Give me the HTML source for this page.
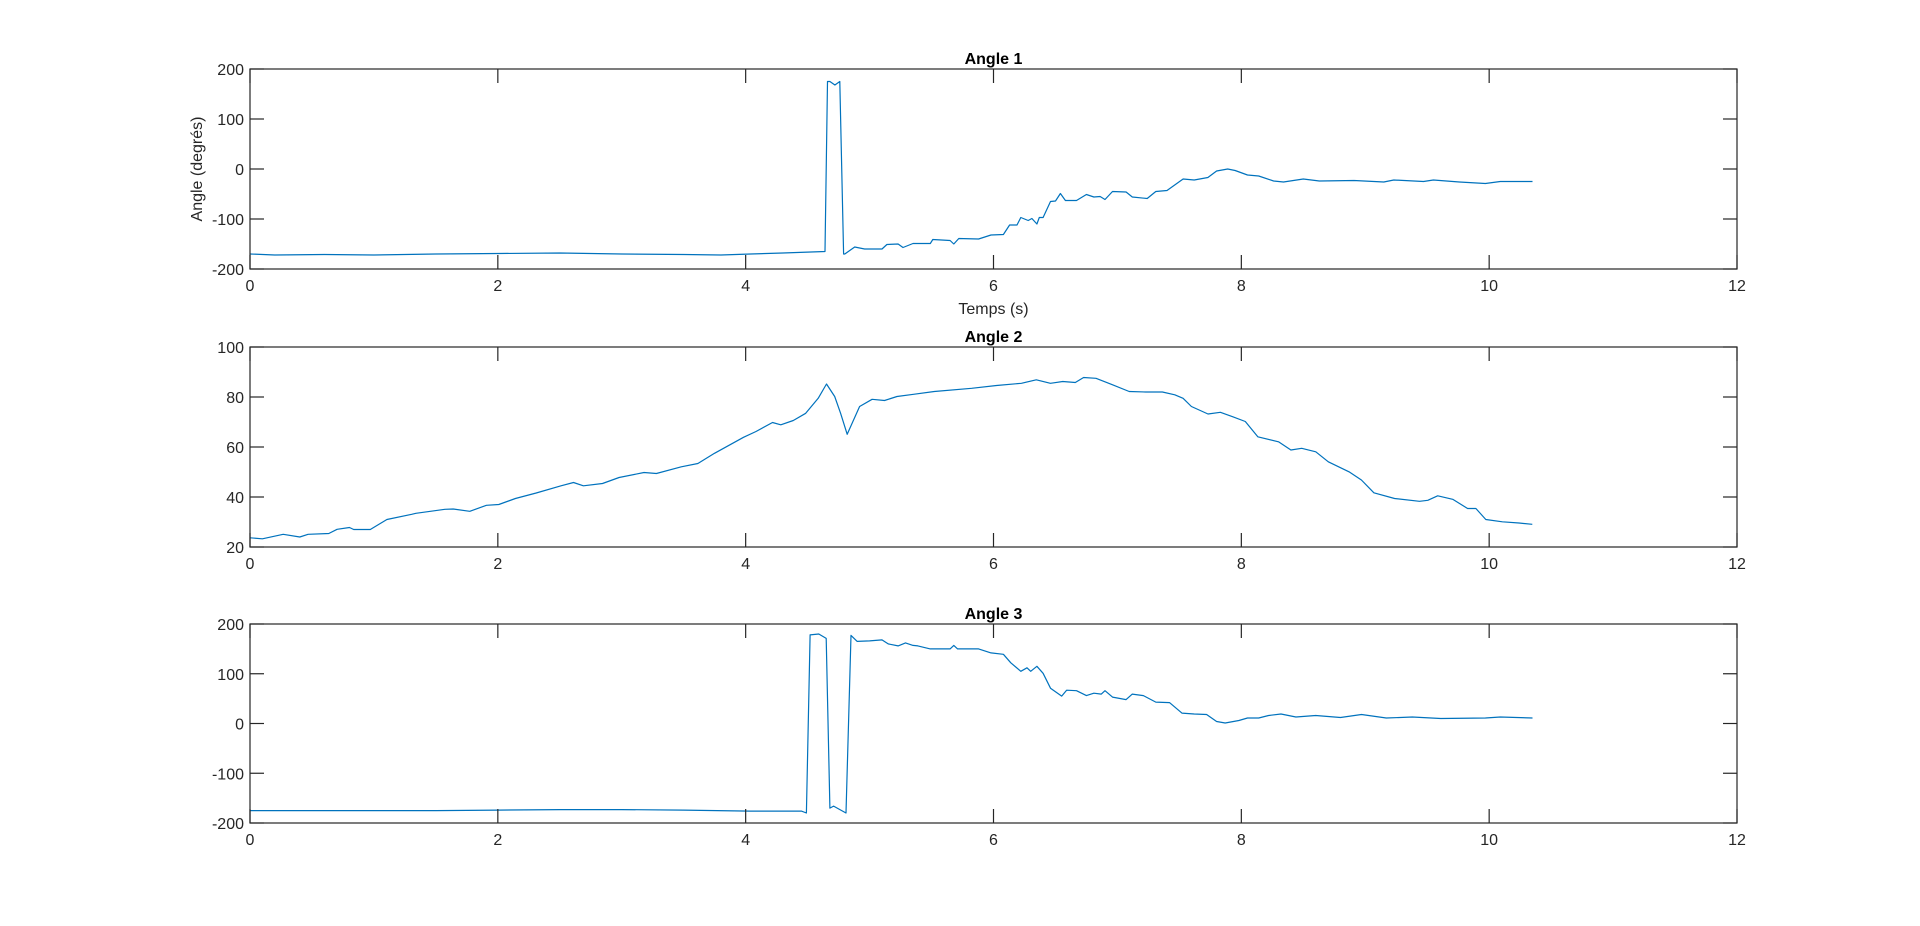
<!DOCTYPE html>
<html><head><meta charset="utf-8"><style>
html,body{margin:0;padding:0;background:#fff;}
svg{display:block;font-family:"Liberation Sans",Arial,sans-serif;}
</style></head><body>
<svg id="fig" width="1920" height="926" viewBox="0 0 1920 926" xmlns="http://www.w3.org/2000/svg"></svg>
<script>
const xTicks=[0,2,4,6,8,10,12];
const yTicks1=[-200,-100,0,100,200];
const yTicks2=[20,40,60,80,100];
const yTicks3=[-200,-100,0,100,200];
const titles=["Angle 1","Angle 2","Angle 3"];
const t1=[0,0.2,0.6,1.0,1.5,2.0,2.5,3.0,3.5,3.8,4.04,4.3,4.64,4.66,4.68,4.72,4.76,4.79,4.80,4.88,4.96,5.10,5.14,5.23,5.27,5.35,5.49,5.51,5.65,5.68,5.72,5.88,5.98,6.08,6.13,6.19,6.22,6.28,6.31,6.35,6.37,6.40,6.46,6.50,6.54,6.58,6.67,6.75,6.81,6.86,6.90,6.96,7.07,7.12,7.24,7.31,7.40,7.53,7.62,7.73,7.80,7.89,7.95,8.05,8.14,8.26,8.34,8.50,8.63,8.91,9.15,9.23,9.47,9.55,9.76,9.97,10.09,10.35];
const v1=[-170,-172,-171,-172,-170,-169,-168,-170,-171,-172,-170,-168,-165,175,175,168,175,-170,-170,-156,-160,-160,-151,-150,-157,-149,-149,-141,-143,-150,-139,-140,-132,-131,-112,-112,-97,-103,-99,-110,-97,-97,-65,-64,-49,-63,-63,-51,-56,-55,-61,-45,-46,-56,-59,-45,-43,-20,-22,-17,-4,0,-3,-12,-14,-24,-26,-20,-24,-23,-26,-22,-25,-22,-26,-29,-25,-25];
const t2=[0,15,40,60,70,95,105,120,125,145,165,195,200,235,245,265,285,300,320,345,375,390,402,425,445,475,490,520,540,560,595,610,630,640,655,670,685,695,705,712,720,735,750,765,780,800,825,870,900,930,948,965,980,995,1005,1020,1040,1060,1080,1100,1115,1125,1135,1155,1170,1185,1200,1215,1240,1255,1268,1285,1300,1325,1340,1355,1380,1410,1420,1432,1450,1468,1478,1490,1510,1530,1546].map(z=>z/149.4);
const v2=[23.7,23.3,25.1,24.0,25.1,25.4,27.1,27.8,27.0,27.0,31.0,33.1,33.5,35.1,35.2,34.3,36.7,37.0,39.4,41.6,44.5,45.8,44.5,45.4,47.8,49.8,49.4,52.1,53.4,57.5,63.9,66.2,69.8,68.9,70.6,73.5,79.5,85.2,80.2,73.5,65.1,76.2,79.1,78.6,80.2,81.1,82.2,83.5,84.6,85.5,86.9,85.5,86.2,85.8,87.8,87.5,84.9,82.2,82.0,82.0,80.9,79.5,76.2,73.2,73.9,72.1,70.2,64.1,62.1,58.8,59.5,58.1,54.1,50.1,46.8,41.7,39.4,38.3,38.7,40.5,39.1,35.4,35.4,31.0,30.1,29.6,29.1];
const t3=[0,0.5,1.0,1.5,2.0,2.5,3.0,3.5,4.04,4.3,4.45,4.49,4.52,4.59,4.65,4.68,4.71,4.81,4.85,4.90,5.00,5.10,5.15,5.23,5.29,5.35,5.39,5.49,5.65,5.68,5.71,5.88,5.98,6.08,6.14,6.22,6.27,6.30,6.35,6.40,6.46,6.55,6.59,6.67,6.75,6.81,6.87,6.90,6.96,7.07,7.12,7.21,7.31,7.42,7.52,7.62,7.72,7.80,7.87,7.98,8.05,8.14,8.22,8.32,8.44,8.60,8.80,8.97,9.17,9.38,9.61,9.97,10.09,10.35];
const v3=[-175,-175,-175,-175,-174,-173,-173,-174,-176,-176,-176,-180,178,180,171,-170,-166,-180,177,165,166,168,160,156,162,157,156,150,150,157,150,150,142,139,122,105,112,105,115,101,71,55,67,66,56,61,59,66,53,48,59,56,43,42,21,19,18,4,1,6,11,11,16,19,13,16,12,18,11,13,10,11,13,11];
const series=[[t1,v1],[t2,v2],[t3,v3]];
const yticksAll=[yTicks1,yTicks2,yTicks3];
const NS="http://www.w3.org/2000/svg";
const svg=document.getElementById('fig');
const L=250,R=1737;
const boxes=[[69,269],[347,547],[624,823]];
function mk(tag,attrs,parent){const e=document.createElementNS(NS,tag);for(const k in attrs)e.setAttribute(k,attrs[k]);(parent||svg).appendChild(e);return e;}
function xs(t){return L+(t-0)/(12-0)*(R-L);}
for(let p=0;p<3;p++){
  const [T,B]=boxes[p];const yt=yticksAll[p];const ymin=yt[0],ymax=yt[yt.length-1];
  const ys=v=>B-(v-ymin)/(ymax-ymin)*(B-T);
  const g=mk('g',{});
  
  
  const pts=series[p][0].map((t,i)=>xs(t).toFixed(1)+','+ys(series[p][1][i]).toFixed(1)).join(' ');
  const line=mk('polyline',{points:pts,fill:'none',stroke:'#0072bd','stroke-width':1.2,'stroke-linejoin':'round'},g);
  
  
  const box=mk('rect',{x:L,y:T,width:R-L,height:B-T,fill:'none',stroke:'#262626','stroke-width':1.2},g);
  
  
  xTicks.forEach(t=>{const x=xs(t);
    mk('line',{x1:x,y1:B,x2:x,y2:B-14,stroke:'#262626','stroke-width':1.2},g);
    mk('line',{x1:x,y1:T,x2:x,y2:T+14,stroke:'#262626','stroke-width':1.2},g);
    const tx=mk('text',{x:x,y:B+22,'font-size':16,fill:'#262626','text-anchor':'middle'},g);tx.textContent=t;
    
    
  });
  yt.forEach(v=>{const y=ys(v);
    mk('line',{x1:L,y1:y,x2:L+14,y2:y,stroke:'#262626','stroke-width':1.2},g);
    mk('line',{x1:R,y1:y,x2:R-14,y2:y,stroke:'#262626','stroke-width':1.2},g);
    const tx=mk('text',{x:L-6,y:y+6,'font-size':16,fill:'#262626','text-anchor':'end'},g);tx.textContent=v;
    
    
  });
  const ti=mk('text',{x:(L+R)/2,y:T-5,'font-size':16,'font-weight':'bold',fill:'#000','text-anchor':'middle'},g);ti.textContent=titles[p];
  
  
}
const xl=mk('text',{x:(L+R)/2,y:314,'font-size':16,fill:'#262626','text-anchor':'middle'});xl.textContent='Temps (s)';


const yl=mk('text',{x:0,y:0,'font-size':16,fill:'#262626','text-anchor':'middle',transform:'translate(202,169) rotate(-90)'});yl.textContent='Angle (degrés)';


</script>
</body></html>
